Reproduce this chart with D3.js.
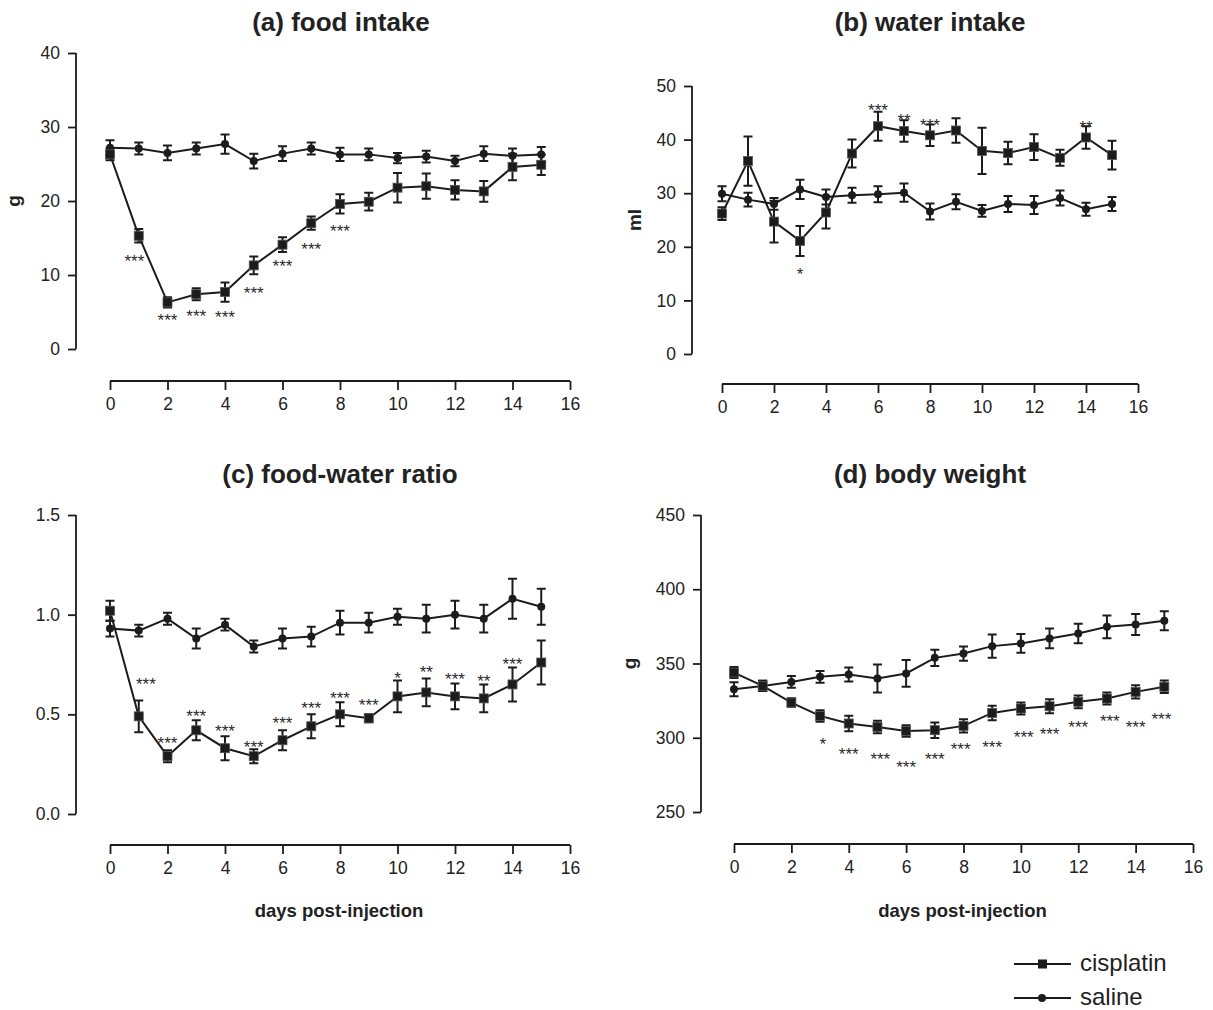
<!DOCTYPE html>
<html><head><meta charset="utf-8">
<script src="https://cdn.jsdelivr.net/npm/d3@7"></script>
<style>
body{margin:0;background:#fff}
svg{display:block}
text{font-family:"Liberation Sans",Arial,Helvetica,sans-serif;fill:#222}
</style>
</head><body>
<svg id="chart" width="1213" height="1010"></svg>
<script>
// ---------- data ----------
const days = [0,1,2,3,4,5,6,7,8,9,10,11,12,13,14,15];
const dayTicks = [0,2,4,6,8,10,12,14,16];
const seriesNames = ["cisplatin","saline"];

const foodTicks = [0,10,20,30,40];
const foodSaline    = [27.2,27.1,26.5,27.1,27.7,25.4,26.4,27.1,26.3,26.3,25.8,26.0,25.4,26.4,26.1,26.3];
const foodSalineErr = [1.0,0.8,1.0,0.8,1.3,1.0,1.0,0.8,0.9,0.8,0.7,0.8,0.7,1.0,1.0,1.0];
const foodCis       = [26.3,15.3,6.3,7.4,7.7,11.3,14.1,17.0,19.6,19.9,21.8,22.0,21.5,21.3,24.6,24.9];
const foodCisErr    = [0.8,0.9,0.7,0.8,1.3,1.2,1.0,0.9,1.3,1.2,2.0,1.7,1.3,1.4,1.8,1.4];
const foodStarX     = [0.85,2,3,4,5,6,7,8];
const foodStarLab   = ["***","***","***","***","***","***","***","***"];
const foodStarY     = [12.4,4.5,5.0,4.9,8.1,11.7,14.0,16.5];

const waterTicks = [0,10,20,30,40,50];
const waterSaline    = [29.9,28.8,28.0,30.7,29.3,29.6,29.8,30.1,26.6,28.4,26.7,28.0,27.8,29.1,27.0,28.0];
const waterSalineErr = [1.4,1.3,1.1,1.8,1.4,1.4,1.5,1.7,1.5,1.4,1.1,1.5,1.7,1.4,1.2,1.3];
const waterCis       = [26.2,36.0,24.7,21.1,26.4,37.4,42.5,41.6,40.8,41.7,37.9,37.5,38.6,36.6,40.4,37.1];
const waterCisErr    = [1.2,4.6,3.9,2.8,3.0,2.6,2.7,2.0,2.0,2.3,4.3,2.1,2.4,1.5,2.1,2.7];
const waterStarX     = [3,6,7,8,14];
const waterStarLab   = ["*","***","**","***","**"];
const waterStarY     = [15.7,46.3,44.4,43.5,43.1];

const ratioTicks = [0,0.5,1.0,1.5];
const ratioSaline    = [0.93,0.92,0.98,0.88,0.95,0.84,0.88,0.89,0.96,0.96,0.99,0.98,1.00,0.98,1.08,1.04];
const ratioSalineErr = [0.04,0.03,0.03,0.05,0.03,0.03,0.05,0.05,0.06,0.05,0.04,0.07,0.07,0.07,0.10,0.09];
const ratioCis       = [1.02,0.49,0.29,0.42,0.33,0.29,0.37,0.44,0.50,0.48,0.59,0.61,0.59,0.58,0.65,0.76];
const ratioCisErr    = [0.05,0.08,0.03,0.05,0.06,0.035,0.05,0.06,0.06,0.02,0.08,0.07,0.065,0.07,0.085,0.11];
const ratioStarX     = [1.25,2,3,4,5,6,7,8,9,10,11,12,13,14];
const ratioStarLab   = ["***","***","***","***","***","***","***","***","***","*","**","***","**","***"];
const ratioStarY     = [0.673,0.376,0.514,0.437,0.358,0.476,0.553,0.602,0.568,0.700,0.730,0.695,0.686,0.771];

const bodyTicks = [250,300,350,400,450];
const bodySaline    = [332.7,334.9,337.6,341.0,342.6,339.9,343.3,353.8,356.7,361.7,363.5,366.9,370.2,374.7,376.3,378.8];
const bodySalineErr = [4.7,3.4,4.0,4.0,4.7,9.5,9.0,5.4,4.8,7.8,6.3,6.6,6.5,7.7,7.1,6.4];
const bodyCis       = [343.9,334.9,323.7,314.7,309.6,307.3,304.6,305.1,308.0,316.7,319.7,321.2,324.2,326.4,330.9,334.3];
const bodyCisErr    = [3.7,3.4,2.9,3.9,5.2,4.2,3.9,5.2,4.5,4.9,4.1,4.7,4.3,4.0,4.5,4.2];
const bodyStarX     = [3.1,4,5.1,6,7,7.9,9,10.1,11,12,13.1,14,14.9];
const bodyStarLab   = ["*","***","***","***","***","***","***","***","***","***","***","***","***"];
const bodyStarY     = [298.3,291.6,288.2,283.0,288.2,295.0,296.5,303.3,305.5,309.6,314.0,310.0,315.2];

// ---------- panels ----------
const panels = [
  {title:"(a) food intake", ylab:"g", ticks:foodTicks, fmt:d3.format("d"),
   sal:foodSaline, salE:foodSalineErr, cis:foodCis, cisE:foodCisErr,
   sx:foodStarX, sl:foodStarLab, sy:foodStarY,
   L:{x0:110,x1:570,xAxisY:381,yAxisX:76,yB:349,yT:53,titleX:341,titleY:31,ylabX:20,xlab:false}},
  {title:"(b) water intake", ylab:"ml", ticks:waterTicks, fmt:d3.format("d"),
   sal:waterSaline, salE:waterSalineErr, cis:waterCis, cisE:waterCisErr,
   sx:waterStarX, sl:waterStarLab, sy:waterStarY,
   L:{x0:722,x1:1138,xAxisY:384,yAxisX:692,yB:354,yT:86,titleX:930,titleY:31,ylabX:641,xlab:false}},
  {title:"(c) food-water ratio", ylab:"", ticks:ratioTicks, fmt:d3.format(".1f"),
   sal:ratioSaline, salE:ratioSalineErr, cis:ratioCis, cisE:ratioCisErr,
   sx:ratioStarX, sl:ratioStarLab, sy:ratioStarY,
   L:{x0:110,x1:570,xAxisY:845,yAxisX:76,yB:814,yT:515,titleX:340,titleY:483,ylabX:0,xlab:true}},
  {title:"(d) body weight", ylab:"g", ticks:bodyTicks, fmt:d3.format("d"),
   sal:bodySaline, salE:bodySalineErr, cis:bodyCis, cisE:bodyCisErr,
   sx:bodyStarX, sl:bodyStarLab, sy:bodyStarY,
   L:{x0:734,x1:1193,xAxisY:844,yAxisX:701,yB:812,yT:515,titleX:930,titleY:483,ylabX:636,xlab:true}}
];

const svg = d3.select("#chart");
const INK = "#1c1c1c";

panels.forEach(p => {
  const L = p.L;
  const g = svg.append("g");
  const x = d3.scaleLinear().domain([0,16]).range([L.x0,L.x1]);
  const y = d3.scaleLinear().domain([p.ticks[0], p.ticks[p.ticks.length-1]]).range([L.yB,L.yT]);

  // x axis (R style, detached)
  const xa = g.append("g").attr("transform",`translate(0,${L.xAxisY})`)
    .call(d3.axisBottom(x).tickValues(dayTicks).tickSize(9).tickPadding(8).tickSizeOuter(0));
  xa.select(".domain").attr("d",`M${x(0)},0H${x(16)}`).attr("stroke",INK).attr("stroke-width",1.8);
  xa.selectAll(".tick line").attr("stroke",INK).attr("stroke-width",1.8);
  xa.selectAll(".tick text").style("font-size","17.5px").attr("fill","#222");

  // y axis
  const ya = g.append("g").attr("transform",`translate(${L.yAxisX},0)`)
    .call(d3.axisLeft(y).tickValues(p.ticks).tickFormat(p.fmt).tickSize(8).tickPadding(8).tickSizeOuter(0));
  ya.select(".domain").attr("d",`M0,${y(p.ticks[0])}V${y(p.ticks[p.ticks.length-1])}`).attr("stroke",INK).attr("stroke-width",1.8);
  ya.selectAll(".tick line").attr("stroke",INK).attr("stroke-width",1.8);
  ya.selectAll(".tick text").style("font-size","17.5px").attr("fill","#222");
  xa.attr("font-family",null); ya.attr("font-family",null);

  // title
  g.append("text").attr("x",L.titleX).attr("y",L.titleY).attr("text-anchor","middle")
    .style("font-size","26px").style("font-weight","bold").text(p.title);
  // y label
  if (p.ylab) {
    g.append("text").attr("transform",`translate(${L.ylabX},${(L.yB+L.yT)/2}) rotate(-90)`)
      .attr("text-anchor","middle").style("font-size","19px").style("font-weight","bold").text(p.ylab);
  }
  if (L.xlab) {
    g.append("text").attr("x",(L.x0+L.x1)/2 - 1).attr("y",917).attr("text-anchor","middle")
      .style("font-size","18.5px").style("font-weight","bold").text("days post-injection");
  }

  const line = d3.line().x((d,i)=>x(days[i])).y(d=>y(d));
  [[p.sal,p.salE,"circle"],[p.cis,p.cisE,"square"]].forEach(([vals,errs,shape]) => {
    g.append("path").attr("d",line(vals)).attr("fill","none").attr("stroke",INK).attr("stroke-width",2);
    const eb = g.append("g").attr("stroke",INK).attr("stroke-width",2).attr("fill","none");
    vals.forEach((v,i) => {
      const cx = x(days[i]), lo = y(v-errs[i]), hi = y(v+errs[i]);
      eb.append("path").attr("d",`M${cx},${lo}V${hi}M${cx-4.5},${lo}H${cx+4.5}M${cx-4.5},${hi}H${cx+4.5}`);
    });
    vals.forEach((v,i) => {
      if (shape==="circle") {
        g.append("circle").attr("cx",x(days[i])).attr("cy",y(v)).attr("r",4).attr("fill",INK);
      } else {
        g.append("rect").attr("x",x(days[i])-4.5).attr("y",y(v)-4.5).attr("width",9).attr("height",9)
          .attr("fill",INK).attr("stroke","#555").attr("stroke-width",0.8);
      }
    });
  });

  // significance stars
  p.sx.forEach((d,i) => {
    g.append("text").attr("x",x(d)).attr("y",y(p.sy[i]) + 10).attr("text-anchor","middle")
      .style("font-size","17px").style("fill","#2a2a2a").text(p.sl[i]);
  });
});

// legend
const leg = svg.append("g");
const legY = [964, 998];
seriesNames.forEach((name,i) => {
  leg.append("line").attr("x1",1014).attr("x2",1071).attr("y1",legY[i]).attr("y2",legY[i]).attr("stroke",INK).attr("stroke-width",1.8);
  if (i===0) leg.append("rect").attr("x",1038).attr("y",legY[i]-4.5).attr("width",9).attr("height",9).attr("fill",INK);
  else leg.append("circle").attr("cx",1042).attr("cy",legY[i]).attr("r",4).attr("fill",INK);
  leg.append("text").attr("x",1080).attr("y",legY[i]+7).style("font-size","24px").text(name);
});
</script>
</body></html>
